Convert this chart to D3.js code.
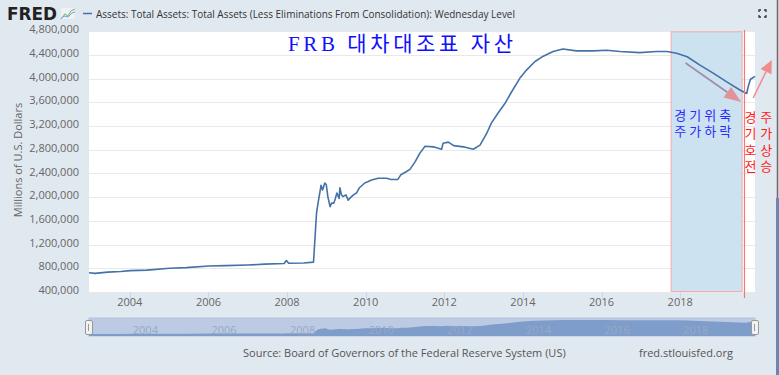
<!DOCTYPE html>
<html>
<head>
<meta charset="utf-8">
<script src="https://cdn.jsdelivr.net/npm/d3@7"></script>
<style>
  html, body { margin: 0; padding: 0; background: #e1e9f0; }
  svg { display: block; font-family: "Open Sans", sans-serif; }
</style>
</head>
<body>
<div id="chart"></div>
<script>
// constants for plot design
const FRAME_WIDTH = 779;
const FRAME_HEIGHT = 375;
const PLOT = {left: 89, right: 755, top: 31.3, bottom: 292};
const NAV = {top: 318, bottom: 336};

// series: weekly level (millions of dollars)
const dates = [
  "2002-12-18","2003-02-12","2003-06-11","2003-10-08","2004-01-07","2004-06-09",
  "2005-01-05","2005-06-08","2006-01-04","2006-06-07","2007-01-03","2007-06-06",
  "2007-12-05","2007-12-26","2008-01-16","2008-06-04","2008-09-03","2008-10-01",
  "2008-10-15","2008-11-12","2008-11-26","2008-12-17","2008-12-31","2009-01-14",
  "2009-02-04","2009-02-18","2009-03-11","2009-03-25","2009-04-08","2009-04-29",
  "2009-05-06","2009-05-20","2009-06-03","2009-07-01","2009-07-22","2009-08-05",
  "2009-09-09","2009-10-07","2009-11-04","2009-12-23","2010-01-20","2010-02-24",
  "2010-04-28","2010-07-14","2010-08-25","2010-10-27","2010-11-24","2011-01-12",
  "2011-02-16","2011-04-06","2011-05-18","2011-07-06","2011-09-21","2011-12-07",
  "2011-12-21","2012-02-08","2012-03-28","2012-06-27","2012-09-26","2012-11-28",
  "2013-01-30","2013-03-13","2013-05-15","2013-07-17","2013-09-18","2013-12-04",
  "2014-02-05","2014-04-23","2014-07-09","2014-10-08","2015-01-07","2015-05-13",
  "2015-10-14","2016-02-17","2016-06-22","2016-12-21","2017-05-24","2017-08-30",
  "2017-11-29","2018-03-07","2018-07-04","2018-11-07","2019-03-06","2019-07-10",
  "2019-09-11","2019-09-25","2019-10-16","2019-11-27"
];
const values = [
  726000, 715000, 735000, 745000, 760000, 770000,
  800000, 812000, 839000, 845000, 856000, 870000,
  880000, 930000, 885000, 890000, 905000, 1730000,
  1900000, 2200000, 2120000, 2240000, 2210000, 2010000,
  1840000, 1900000, 1900000, 1980000, 2070000, 1980000,
  2160000, 2040000, 2010000, 2040000, 1950000, 1980000,
  2040000, 2070000, 2160000, 2240000, 2260000, 2290000,
  2320000, 2320000, 2300000, 2300000, 2380000, 2430000,
  2470000, 2600000, 2740000, 2860000, 2850000, 2810000,
  2910000, 2930000, 2870000, 2850000, 2810000, 2880000,
  3080000, 3250000, 3420000, 3580000, 3780000, 4010000,
  4150000, 4290000, 4380000, 4460000, 4500000, 4470000,
  4470000, 4480000, 4460000, 4440000, 4460000, 4460000,
  4430000, 4370000, 4230000, 4090000, 3950000, 3810000,
  3750000, 3870000, 3990000, 4040000
];

// axis ticks
const yTicks = [400000, 800000, 1200000, 1600000, 2000000, 2400000,
                2800000, 3200000, 3600000, 4000000, 4400000, 4800000];
const xTickYears = [2004, 2006, 2008, 2010, 2012, 2014, 2016, 2018];

// texts
const titleText = "FRB 대차대조표 자산";
const legendText = "Assets: Total Assets: Total Assets (Less Eliminations From Consolidation): Wednesday Level";
const yTitle = "Millions of U.S. Dollars";
const sourceText = "Source: Board of Governors of the Federal Reserve System (US)";
const siteText = "fred.stlouisfed.org";

// annotations (in data coordinates)
const shadeRange = ["2017-10-04", "2019-07-26"];
const redLineDate = "2019-08-17";
const downArrow = [["2018-02-20", 4265000], ["2019-07-22", 3607000]];
const upArrow = [["2019-11-10", 3674000], ["2020-05-01", 4316000]];
const blueLabels = ["경기위축", "주가하락"];
const blueLabelAt = ["2017-11-07", 3300000];
const redColumns = ["경기호전", "주가상승"];
const redColumnAt = [["2019-10-16", 3470000], ["2020-03-10", 3470000]];

const parse = d3.timeParse("%Y-%m-%d");
const data = dates.map((d, i) => ({date: parse(d), value: values[i]}));

// scales
const xScale = d3.scaleTime()
    .domain([parse("2002-12-18"), parse("2019-11-27")])
    .range([PLOT.left, PLOT.right]);
const yScale = d3.scaleLinear()
    .domain([400000, 4800000])
    .range([PLOT.bottom, PLOT.top]);

const svg = d3.select("#chart").append("svg")
    .attr("width", FRAME_WIDTH)
    .attr("height", FRAME_HEIGHT);

svg.append("rect")
    .attr("width", FRAME_WIDTH).attr("height", FRAME_HEIGHT)
    .attr("fill", "#e1e9f0");

// plot background
svg.append("rect")
    .attr("x", PLOT.left).attr("y", PLOT.top)
    .attr("width", PLOT.right - PLOT.left)
    .attr("height", PLOT.bottom - PLOT.top)
    .attr("fill", "#ffffff");

// grid lines
svg.append("g").selectAll("line")
  .data(yTicks)
  .join("line")
    .attr("x1", PLOT.left).attr("x2", PLOT.right)
    .attr("y1", d => Math.round(yScale(d)) + 0.5)
    .attr("y2", d => Math.round(yScale(d)) + 0.5)
    .attr("stroke", "#e9e9e9");

// y labels
svg.append("g").selectAll("text")
  .data(yTicks)
  .join("text")
    .attr("x", 79)
    .attr("y", d => yScale(d) + 2)
    .attr("text-anchor", "end")
    .attr("font-size", "11px")
    .attr("fill", "#666666")
    .text(d => d3.format(",")(d));

// y title
svg.append("text")
    .attr("transform", "translate(22,160) rotate(-90)")
    .attr("text-anchor", "middle")
    .attr("font-size", "11px")
    .attr("fill", "#666666")
    .text(yTitle);

// x ticks and labels
const xAxisG = svg.append("g");
xAxisG.selectAll("line")
  .data(xTickYears)
  .join("line")
    .attr("x1", d => Math.round(xScale(new Date(d, 0, 1))) + 0.5)
    .attr("x2", d => Math.round(xScale(new Date(d, 0, 1))) + 0.5)
    .attr("y1", PLOT.bottom).attr("y2", PLOT.bottom + 7)
    .attr("stroke", "#ccd6eb");
xAxisG.selectAll("text")
  .data(xTickYears)
  .join("text")
    .attr("x", d => xScale(new Date(d, 0, 1)))
    .attr("y", 306)
    .attr("text-anchor", "middle")
    .attr("font-size", "11px")
    .attr("fill", "#666666")
    .text(d => d);

// shaded period
svg.append("rect")
    .attr("x", xScale(parse(shadeRange[0])) + 0.5)
    .attr("y", PLOT.top + 0.5)
    .attr("width", xScale(parse(shadeRange[1])) - xScale(parse(shadeRange[0])))
    .attr("height", PLOT.bottom - PLOT.top - 1)
    .attr("fill", "#cce2f0")
    .attr("stroke", "#f4aaaa")
    .attr("stroke-width", 1);

// main series line
svg.append("path")
    .datum(data)
    .attr("d", d3.line()
        .x(d => xScale(d.date))
        .y(d => yScale(d.value)))
    .attr("fill", "none")
    .attr("stroke", "#4472a8")
    .attr("stroke-width", 1.6)
    .attr("stroke-linejoin", "round");

// red vertical marker
svg.append("line")
    .attr("x1", Math.round(xScale(parse(redLineDate))) + 0.5)
    .attr("x2", Math.round(xScale(parse(redLineDate))) + 0.5)
    .attr("y1", 30).attr("y2", 298)
    .attr("stroke", "#f07a7a")
    .attr("stroke-width", 1.2);

// arrows
function drawArrow(pts, lineColor, headColor, headLen, headW) {
  const x1 = xScale(parse(pts[0][0])), y1 = yScale(pts[0][1]);
  const x2 = xScale(parse(pts[1][0])), y2 = yScale(pts[1][1]);
  const a = Math.atan2(y2 - y1, x2 - x1);
  const bx = x2 - headLen * Math.cos(a), by = y2 - headLen * Math.sin(a);
  const nx = -Math.sin(a) * headW / 2, ny = Math.cos(a) * headW / 2;
  svg.append("line")
      .attr("x1", x1).attr("y1", y1).attr("x2", bx).attr("y2", by)
      .attr("stroke", lineColor).attr("stroke-width", 1.6);
  svg.append("path")
      .attr("d", `M${x2},${y2}L${bx + nx},${by + ny}L${bx - nx},${by - ny}Z`)
      .attr("fill", headColor);
}
drawArrow(downArrow, "#a08ca8", "#e3929c", 17, 13);
drawArrow(upArrow, "#f09090", "#f08c8c", 13, 12);

// title annotation
svg.append("text")
    .attr("x", 288).attr("y", 51)
    .attr("font-family", "'Liberation Serif', 'Noto Sans CJK KR', serif")
    .attr("font-size", "21px")
    .attr("fill", "#1010ff")
    .attr("textLength", 225)
    .attr("lengthAdjust", "spacing")
    .text(titleText);

// blue label: one text, two lines
const blueText = svg.append("text")
    .attr("font-family", "'Noto Sans CJK KR', sans-serif")
    .attr("font-size", "13px")
    .attr("fill", "#2a2aff");
blueText.selectAll("tspan")
  .data(blueLabels)
  .join("tspan")
    .attr("x", xScale(parse(blueLabelAt[0])))
    .attr("y", (d, i) => yScale(blueLabelAt[1]) + i * 16)
    .attr("letter-spacing", "3px")
    .text(d => d);

// red vertical labels
redColumns.forEach((word, c) => {
  svg.append("text")
      .attr("x", xScale(parse(redColumnAt[c][0])))
      .attr("y", yScale(redColumnAt[c][1]))
      .attr("writing-mode", "vertical-rl")
      .attr("letter-spacing", "3.5px")
      .attr("font-family", "'Noto Sans CJK KR', sans-serif")
      .attr("font-size", "13px")
      .attr("fill", "#ff1a1a")
      .text(word);
});

// navigator
const navY = d3.scaleLinear()
    .domain([d3.min(values), d3.max(values)])
    .range([334, 320]);
svg.append("rect")
    .attr("x", PLOT.left).attr("y", NAV.top)
    .attr("width", PLOT.right - PLOT.left)
    .attr("height", NAV.bottom - NAV.top)
    .attr("fill", "#bccbe3")
    .attr("stroke", "#b4c2da");
svg.append("path")
    .datum(data)
    .attr("d", d3.area()
        .x(d => xScale(d.date))
        .y0(NAV.bottom)
        .y1(d => navY(d.value)))
    .attr("fill", "#7f9dca");
svg.append("g").selectAll("text")
  .data(xTickYears)
  .join("text")
    .attr("x", d => xScale(new Date(d, 0, 1)) + 3)
    .attr("y", 334)
    .attr("font-size", "11px")
    .attr("fill", "#98a8c6")
    .text(d => d);
[PLOT.left, PLOT.right].forEach(hx => {
  svg.append("rect")
      .attr("x", hx - 3.5).attr("y", 320.5)
      .attr("width", 7).attr("height", 14)
      .attr("rx", 1.5)
      .attr("fill", "#f2f2f2").attr("stroke", "#999999");
  svg.append("line")
      .attr("x1", hx - 0.5).attr("x2", hx - 0.5)
      .attr("y1", 324).attr("y2", 331)
      .attr("stroke", "#999999");
});

// header: FRED logo
svg.append("text")
    .attr("x", 7).attr("y", 20)
    .attr("font-family", "'DejaVu Sans', sans-serif")
    .attr("font-weight", "bold")
    .attr("font-size", "17px")
    .attr("fill", "#222222")
    .attr("textLength", 50)
    .attr("lengthAdjust", "spacingAndGlyphs")
    .text("FRED");
svg.append("rect")
    .attr("x", 61).attr("y", 8).attr("width", 14).attr("height", 11)
    .attr("fill", "#eef2f4");
svg.append("path")
    .attr("d", "M61,19L65,14L68,16L71,11L75,9")
    .attr("fill", "none").attr("stroke", "#8cc08c").attr("stroke-width", 1.2);
svg.append("path")
    .attr("d", "M61,19L64,16L68,17L72,13L75,12")
    .attr("fill", "none").attr("stroke", "#7aa0c8").attr("stroke-width", 1);

// legend
svg.append("line")
    .attr("x1", 83).attr("x2", 92).attr("y1", 13.5).attr("y2", 13.5)
    .attr("stroke", "#4472a8").attr("stroke-width", 1.5);
svg.append("text")
    .attr("x", 96).attr("y", 17.5)
    .attr("font-size", "11px")
    .attr("fill", "#333333")
    .attr("textLength", 419)
    .attr("lengthAdjust", "spacingAndGlyphs")
    .text(legendText);

// expand icon
svg.append("path")
    .attr("d", "M759,12V10H761 M764,10H766V12 M766,15V17H764 M761,17H759V15")
    .attr("fill", "none").attr("stroke", "#333333").attr("stroke-width", 1.3);

// right edge scrollbar
svg.append("line")
    .attr("x1", 777.5).attr("x2", 777.5).attr("y1", 0).attr("y2", FRAME_HEIGHT)
    .attr("stroke", "#6a6a6a").attr("stroke-width", 1.5);
svg.append("rect")
    .attr("x", 776).attr("y", 198).attr("width", 3).attr("height", 177)
    .attr("fill", "#6d86ad");

// source line
svg.append("text")
    .attr("x", 243).attr("y", 357)
    .attr("font-size", "11px")
    .attr("fill", "#555555")
    .text(sourceText);
svg.append("text")
    .attr("x", 639).attr("y", 357)
    .attr("font-size", "11px")
    .attr("fill", "#555555")
    .text(siteText);
</script>
</body>
</html>
